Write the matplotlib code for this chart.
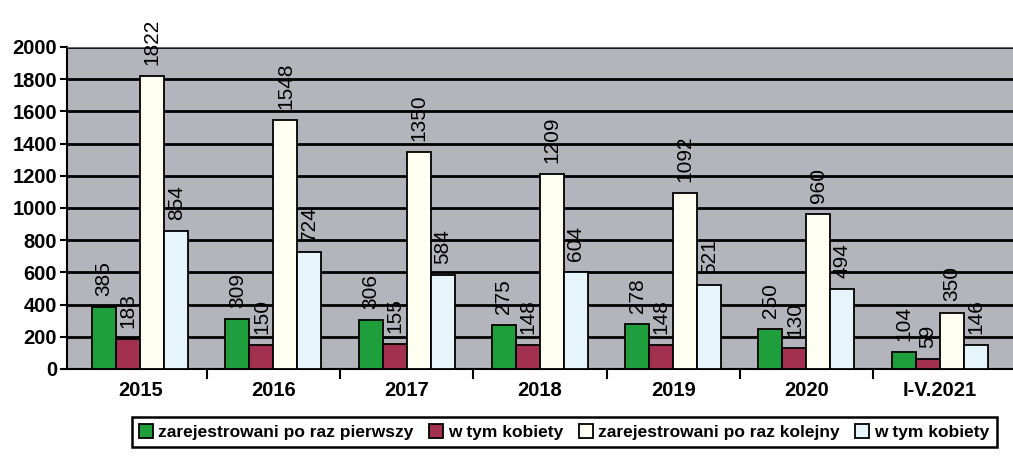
import matplotlib.pyplot as plt
import numpy as np

plt.rcParams['font.family'] = ['Liberation Sans', 'DejaVu Sans']

categories = ['2015', '2016', '2017', '2018', '2019', '2020', 'I-V.2021']
first_total = [385, 309, 306, 275, 278, 250, 104]
first_women = [183, 150, 155, 148, 148, 130, 59]
next_total = [1822, 1548, 1350, 1209, 1092, 960, 350]
next_women = [854, 724, 584, 604, 521, 494, 146]
series_names = ['zarejestrowani po raz pierwszy', 'w tym kobiety',
                'zarejestrowani po raz kolejny', 'w tym kobiety']

colors = ['#1f9e3c', '#a3304f', '#fffff2', '#e6f5fa']
series = [first_total, first_women, next_total, next_women]

fig = plt.figure(figsize=(10.13, 4.7), dpi=100)
ax = fig.add_axes([0.066, 0.215, 0.934, 0.685])
ax.set_facecolor('#b4b4bc')

x = np.arange(len(categories))
width = 0.18
for i, (vals, col, name) in enumerate(zip(series, colors, series_names)):
    pos = x + (i - 1.5) * width
    bars = ax.bar(pos, vals, width, color=col, edgecolor='black', linewidth=1.3,
                  label=name, zorder=3)
    for b, v in zip(bars, vals):
        ax.annotate(str(v), (b.get_x() + b.get_width() / 2, v), xytext=(0, 8),
                    textcoords='offset points', rotation=90, ha='center', va='bottom',
                    fontsize=15, zorder=4)

ax.set_ylim(0, 2000)
ax.set_xlim(-0.55, len(categories) - 0.45)
ax.set_yticks(np.arange(0, 2001, 200))
ax.yaxis.grid(True, color='black', linewidth=2, zorder=1)
ax.set_axisbelow(True)
ax.set_xticks(x)
ax.set_xticklabels(categories)
ax.set_xticks(x[:-1] + 0.5, minor=True)
ax.tick_params(axis='x', which='major', length=0, pad=9)
ax.tick_params(axis='x', which='minor', length=7, width=1.5, direction='out')
ax.tick_params(axis='y', length=5, width=1.5, pad=2)
for lab in ax.get_xticklabels() + ax.get_yticklabels():
    lab.set_fontweight('bold')
    lab.set_fontsize(14.5)

ax.spines['right'].set_visible(False)
ax.spines['top'].set_color('#666666')
ax.spines['left'].set_linewidth(1.5)
ax.spines['bottom'].set_linewidth(1.5)

leg = fig.legend(loc='lower center', bbox_to_anchor=(0.557, 0.03), ncol=4,
                 fancybox=False, edgecolor='black', framealpha=1,
                 handlelength=0.8, handleheight=0.9, handletextpad=0.3,
                 columnspacing=0.9, borderpad=0.4,
                 prop={'weight': 'bold', 'size': 12.5})
leg.get_frame().set_linewidth(1.8)

fig.savefig('out.png', dpi=100)
